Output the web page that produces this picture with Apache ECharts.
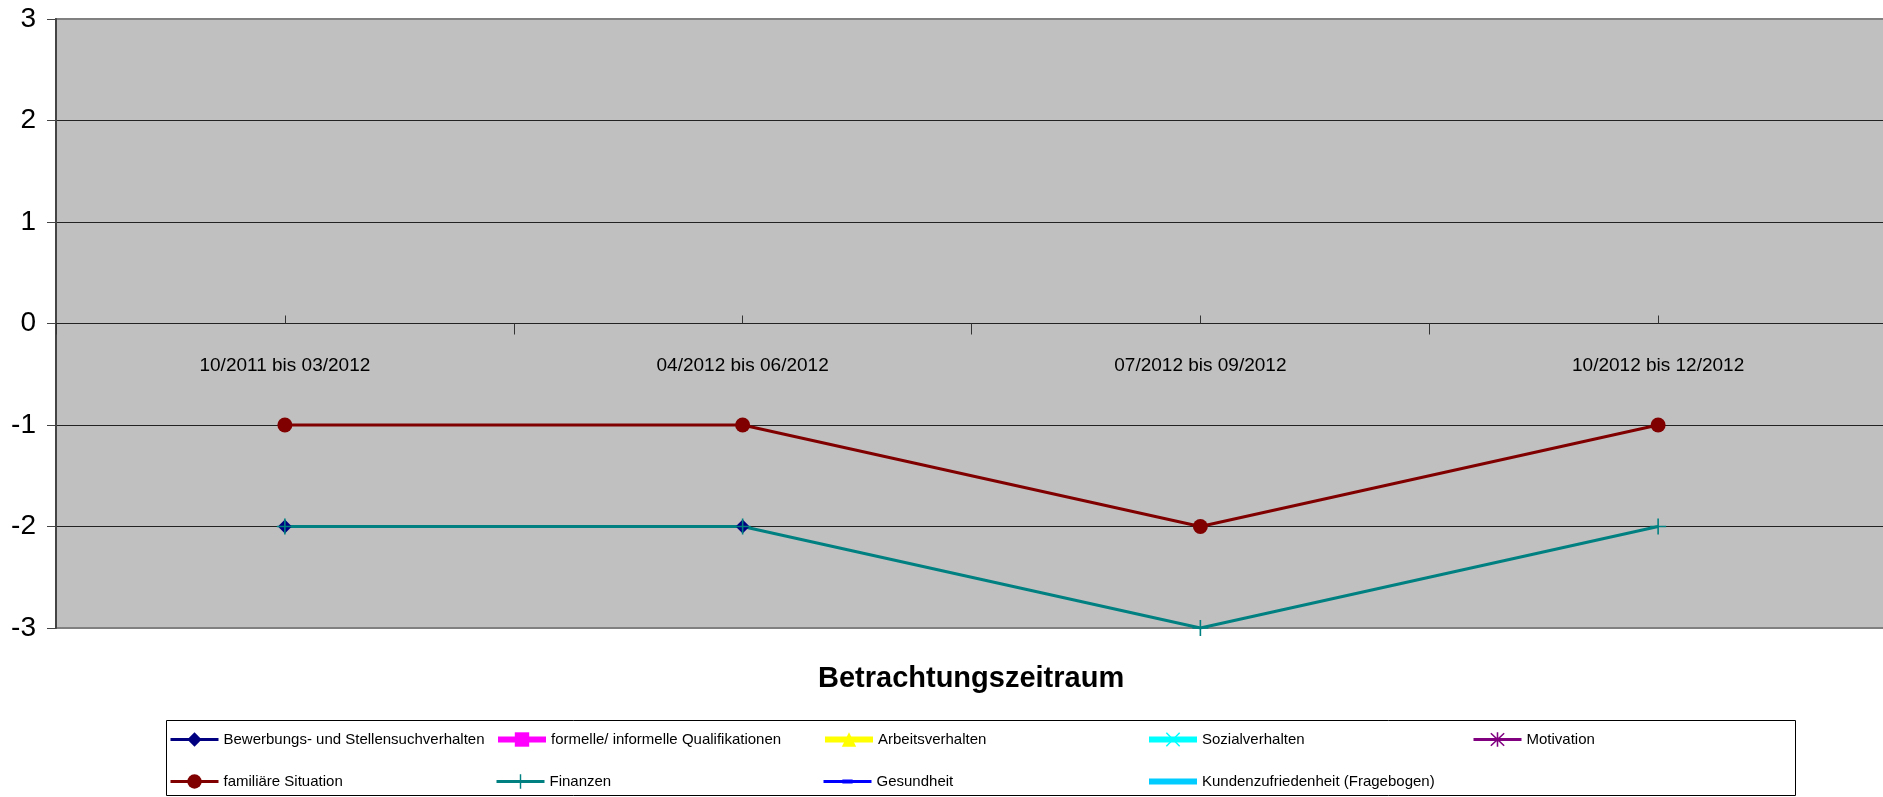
<!doctype html>
<meta charset="utf-8">
<style>
  html, body { margin: 0; padding: 0; width: 100%; height: 100%; background: #fff; }
  #chart { width: 1883px; height: 797px; }
</style>
<script src="https://cdn.jsdelivr.net/npm/echarts@6/dist/echarts.min.js"></script>

<div id="chart"></div>

<script>
  // Betrachtungszeiträume
  const categories = ['10/2011 bis 03/2012', '04/2012 bis 06/2012', '07/2012 bis 09/2012', '10/2012 bis 12/2012'];
  const yTicks = [-3, -2, -1, 0, 1, 2, 3];

  // Werte je Merkmal (null = kein Wert)
  const bewerbung     = [-2, -2, null, null];
  const qualifikation = [null, null, null, null];
  const arbeit        = [null, null, null, null];
  const sozial        = [null, null, null, null];
  const motivation    = [null, null, null, null];
  const familie       = [-1, -1, -2, -1];
  const finanzen      = [-2, -2, -3, -2];
  const gesundheit    = [null, null, null, null];
  const kunden        = [null, null, null, null];

  const names = [
    'Bewerbungs- und Stellensuchverhalten', 'formelle/ informelle Qualifikationen', 'Arbeitsverhalten',
    'Sozialverhalten', 'Motivation', 'familiäre Situation', 'Finanzen', 'Gesundheit',
    'Kundenzufriedenheit (Fragebogen)'
  ];
  const values = [bewerbung, qualifikation, arbeit, sozial, motivation, familie, finanzen, gesundheit, kunden];

  const PLUS = 'path://M-1,-10 L1,-10 L1,-1 L10,-1 L10,1 L1,1 L1,10 L-1,10 L-1,1 L-10,1 L-10,-1 L-1,-1 Z';
  const CROSS = 'path://M-8,-9.4 L0,-1.4 L8,-9.4 L9.4,-8 L1.4,0 L9.4,8 L8,9.4 L0,1.4 L-8,9.4 L-9.4,8 L-1.4,0 L-9.4,-8 Z';
  const STAR = 'path://M-8,-9.4 L-1,-2.4 L-1,-10 L1,-10 L1,-2.4 L8,-9.4 L9.4,-8 L1.4,0 L9.4,8 L8,9.4 L1,2.4 L1,10 L-1,10 L-1,2.4 L-8,9.4 L-9.4,8 L-1.4,0 L-9.4,-8 Z';
  // small flat dash inside a square box, so the legend does not stretch it
  const DASH = 'path://M0,0 L0.01,0 L0,0.01 Z M2,5 L12,5 L12,9 L2,9 Z M14,14 L13.99,14 L14,13.99 Z';

  const styles = [
    { color: '#000080', width: 3, symbol: 'diamond', size: 14 },
    { color: '#FF00FF', width: 6, symbol: 'rect', size: 12 },
    { color: '#FFFF00', width: 6, symbol: 'triangle', size: 13 },
    { color: '#00FFFF', width: 6, symbol: CROSS, size: 13 },
    { color: '#800080', width: 3, symbol: STAR, size: 13 },
    { color: '#800000', width: 3, symbol: 'circle', size: 15 },
    { color: '#008080', width: 3, symbol: PLUS, size: 16 },
    { color: '#0000FF', width: 3, symbol: DASH, size: 12 },
    { color: '#00CCFF', width: 6, symbol: 'none', size: 0 }
  ];

  // legend grid: 5 columns, 2 rows
  const legendLeft = [169, 495, 822, 1146, 1472];
  const legendTop = [732, 774];

  // plot area: 56..1887 x 19..628, y=0 at the middle
  const AXIS_SHIFT = -304.5;

  let chart = echarts.init(document.getElementById('chart'));

  chart.setOption({
    animation: false,
    textStyle: { fontFamily: 'Liberation Sans, Arial, sans-serif' },
    title: {
      text: 'Betrachtungszeitraum',
      left: 818,
      top: 664,
      padding: 0,
      textStyle: { fontSize: 29, fontWeight: 'bold', color: '#000', fontFamily: 'Liberation Sans, Arial, sans-serif' }
    },
    graphic: [{
      type: 'rect',
      shape: { x: 166.5, y: 720.5, width: 1629, height: 75 },
      style: { fill: 'none', stroke: '#000', lineWidth: 1 },
      silent: true
    }],
    legend: names.map((n, i) => ({
      data: [i === 8 ? { name: n, itemStyle: { opacity: 0 } } : n],
      left: legendLeft[i < 5 ? i : i - 5],
      top: legendTop[i < 5 ? 0 : 1],
      padding: 0,
      itemWidth: 48,
      itemHeight: 18,
      symbolKeepAspect: true,
      selectedMode: false,
      lineStyle: { width: styles[i].width },
      textStyle: { fontSize: 15, color: '#000' }
    })),
    grid: {
      left: 56, right: -4, top: 19, bottom: 169,
      show: true,
      backgroundColor: '#C0C0C0',
      borderColor: '#808080',
      borderWidth: 2,
      containLabel: false,
      outerBoundsMode: 'none'
    },
    xAxis: [{
      type: 'category',
      data: categories,
      boundaryGap: true,
      offset: AXIS_SHIFT,
      axisLine: { onZero: false, lineStyle: { color: '#222', width: 1 } },
      axisTick: { show: true, length: 11, lineStyle: { color: '#333' } },
      axisLabel: { margin: 33, fontSize: 19, color: '#000' },
      splitLine: { show: false }
    }, {
      type: 'category',
      data: categories,
      position: 'bottom',
      boundaryGap: true,
      offset: AXIS_SHIFT,
      axisLine: { onZero: false, lineStyle: { color: '#222', width: 1 } },
      axisTick: { show: true, alignWithLabel: true, inside: true, length: 8, lineStyle: { color: '#333' } },
      axisLabel: { show: false },
      splitLine: { show: false }
    }],
    yAxis: {
      type: 'value',
      min: yTicks[0],
      max: yTicks[yTicks.length - 1],
      interval: 1,
      axisLine: { show: true, onZero: false, lineStyle: { color: '#444', width: 2 } },
      axisTick: { show: true, length: 9, lineStyle: { color: '#444' } },
      axisLabel: { margin: 20, fontSize: 28, color: '#000' },
      splitLine: { show: true, showMinLine: false, showMaxLine: false, lineStyle: { color: '#222', width: 1 } }
    },
    series: names.map((n, i) => ({
      name: n,
      type: 'line',
      xAxisIndex: 0,
      data: values[i],
      connectNulls: false,
      symbol: styles[i].symbol,
      symbolSize: styles[i].size,
      symbolKeepAspect: true,
      showAllSymbol: true,
      lineStyle: { color: styles[i].color, width: styles[i].width },
      itemStyle: { color: styles[i].color, borderWidth: 0 },
      emphasis: { disabled: true }
    }))
  });
</script>
